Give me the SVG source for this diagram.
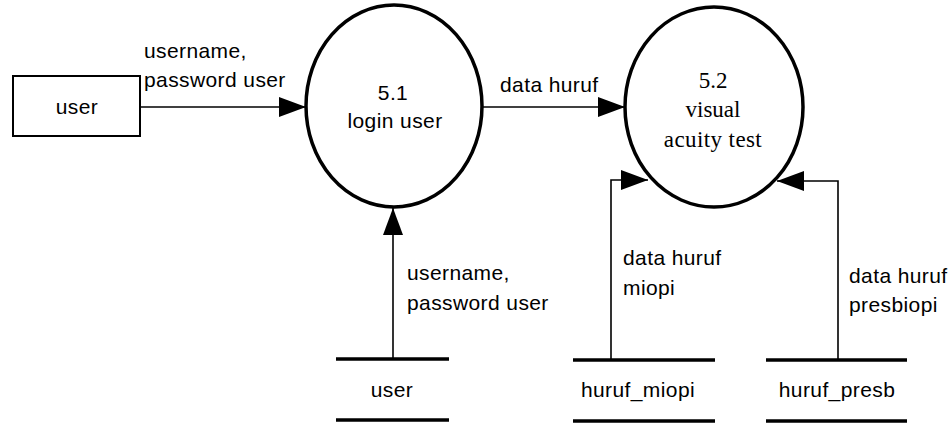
<svg xmlns="http://www.w3.org/2000/svg" width="949" height="423" viewBox="0 0 949 423">
<style>
  .lbl { font-family: "Liberation Sans", Arial, sans-serif; font-size: 21px; letter-spacing: 0.4px; fill: #000; }
  .ser { font-family: "Liberation Serif", "Times New Roman", serif; font-size: 23px; fill: #000; }
  .proc { fill: #fff; stroke: #000; stroke-width: 3.5; }
  .ent { fill: #fff; stroke: #000; stroke-width: 2; }
  .store { stroke: #000; stroke-width: 3.5; }
  .flow { fill: none; stroke: #000; stroke-width: 1.6; }
</style>
<defs>
  <marker id="arr" markerUnits="userSpaceOnUse" markerWidth="28" markerHeight="20" refX="27" refY="10" orient="auto" viewBox="0 0 28 20">
    <path d="M0,0 L27,10 L0,20 z" fill="#000"/>
  </marker>
</defs>
<rect width="949" height="423" fill="#fff"/>

<g id="connectors">
  <path class="flow" d="M140,107 L306,107" marker-end="url(#arr)"/>
  <path class="flow" d="M482,107 L625,107" marker-end="url(#arr)"/>
  <path class="flow" d="M393,359 L393,208" marker-end="url(#arr)"/>
  <path class="flow" d="M611,359 L611,180 L648,180" marker-end="url(#arr)"/>
  <path class="flow" d="M838,359 L838,181 L777,181" marker-end="url(#arr)"/>
  <text class="lbl" x="144" y="58">username,</text>
  <text class="lbl" x="144" y="87">password user</text>
  <text class="lbl" x="500" y="92">data huruf</text>
  <text class="lbl" x="407" y="280">username,</text>
  <text class="lbl" x="407" y="310">password user</text>
  <text class="lbl" x="623" y="265">data huruf</text>
  <text class="lbl" x="623" y="295">miopi</text>
  <text class="lbl" x="849" y="283">data huruf</text>
  <text class="lbl" x="849" y="312">presbiopi</text>
</g>

<g id="entity-user">
  <rect class="ent" x="13" y="76" width="127" height="60"/>
  <text class="lbl" x="77" y="114" text-anchor="middle">user</text>
</g>

<g id="process-5-1">
  <ellipse class="proc" cx="394" cy="106" rx="88" ry="101"/>
  <text class="lbl" x="393" y="100" text-anchor="middle">5.1</text>
  <text class="lbl" x="395" y="128" text-anchor="middle">login user</text>
</g>

<g id="process-5-2">
  <ellipse class="proc" cx="714" cy="107" rx="89" ry="100"/>
  <text class="ser" x="713" y="88" text-anchor="middle">5.2</text>
  <text class="ser" x="713" y="117" text-anchor="middle">visual</text>
  <text class="ser" x="713" y="147" text-anchor="middle" letter-spacing="0.4">acuity test</text>
</g>

<g id="store-user">
  <line class="store" x1="336" y1="359" x2="449" y2="359"/>
  <line class="store" x1="336" y1="420" x2="449" y2="420"/>
  <text class="lbl" x="392" y="397" text-anchor="middle">user</text>
</g>

<g id="store-huruf-miopi">
  <line class="store" x1="573" y1="360" x2="715" y2="360"/>
  <line class="store" x1="573" y1="421" x2="715" y2="421"/>
  <text class="lbl" x="638" y="397" text-anchor="middle">huruf_miopi</text>
</g>

<g id="store-huruf-presb">
  <line class="store" x1="766" y1="360" x2="907" y2="360"/>
  <line class="store" x1="766" y1="421" x2="907" y2="421"/>
  <text class="lbl" x="837" y="397" text-anchor="middle">huruf_presb</text>
</g>
</svg>
